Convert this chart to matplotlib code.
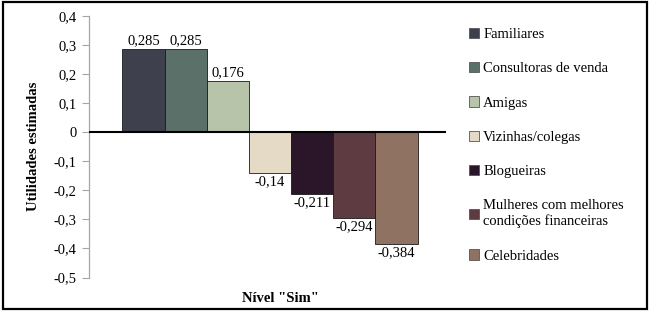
import numpy as np
import matplotlib.pyplot as plt
from matplotlib.patches import Rectangle

# dados do gráfico
categorias = ["Familiares", "Consultoras de venda", "Amigas", "Vizinhas/colegas",
              "Blogueiras", "Mulheres com melhores\ncondições financeiras", "Celebridades"]
valores = [0.285, 0.285, 0.176, -0.14, -0.211, -0.294, -0.384]
rotulos = ["0,285", "0,285", "0,176", "-0,14", "-0,211", "-0,294", "-0,384"]
yticks = [0.4, 0.3, 0.2, 0.1, 0, -0.1, -0.2, -0.3, -0.4, -0.5]
ytick_labels = ["0,4", "0,3", "0,2", "0,1", "0", "-0,1", "-0,2", "-0,3", "-0,4", "-0,5"]

cores = ['#3e404d', '#5a7069', '#b7c4aa', '#e5dac5', '#2b1528', '#5e3b41', '#8f7262']

plt.rcParams['font.family'] = ['Liberation Serif', 'DejaVu Serif']

fig = plt.figure(figsize=(6.5, 3.11), dpi=100)
ax = fig.add_axes([0.137, 0.1077, 0.549, 0.841])

x = np.arange(len(valores))
for i, v in enumerate(valores):
    ax.bar(x[i], v, width=1.0, color=cores[i], edgecolor='#1a1a1a',
           linewidth=0.6, label=categorias[i])
    if v >= 0:
        ax.text(x[i], v + 0.006, rotulos[i], ha='center', va='bottom', fontsize=10.5)
    else:
        ax.text(x[i], v - 0.008, rotulos[i], ha='center', va='top', fontsize=10.5)

ax.axhline(0, color='black', linewidth=1.5, zorder=3)

ax.set_xlim(-1.29, 7.17)
ax.set_ylim(-0.5, 0.4)
ax.set_yticks(yticks)
ax.set_yticklabels(ytick_labels, fontsize=10.5)
ax.set_xticks([])
ax.tick_params(axis='y', direction='out', length=5, color='#a6a6a6', pad=4)

for s in ['top', 'right', 'bottom']:
    ax.spines[s].set_visible(False)
ax.spines['left'].set_color('#a6a6a6')
ax.spines['left'].set_linewidth(0.9)

ax.set_ylabel('Utilidades estimadas', fontsize=10.5, fontweight='bold')
ax.yaxis.set_label_coords(-0.138, 0.5)
ax.set_xlabel('Nível "Sim"', fontsize=10.5, fontweight='bold')
ax.xaxis.set_label_coords(0.535, -0.055)

leg = fig.legend(loc='upper left', bbox_to_anchor=(0.712, 0.93), frameon=False,
                 fontsize=10.5, handlelength=0.7, handleheight=0.7, handletextpad=0.3,
                 labelspacing=1.45, borderaxespad=0)
for h in leg.legend_handles:
    h.set_edgecolor('#555555')
    h.set_linewidth(0.6)

# moldura externa
fig.patches.append(Rectangle((0.004, 0.006), 0.992, 0.988, transform=fig.transFigure,
                             fill=False, edgecolor='black', linewidth=1.6))

plt.savefig('out.png', dpi=100)
